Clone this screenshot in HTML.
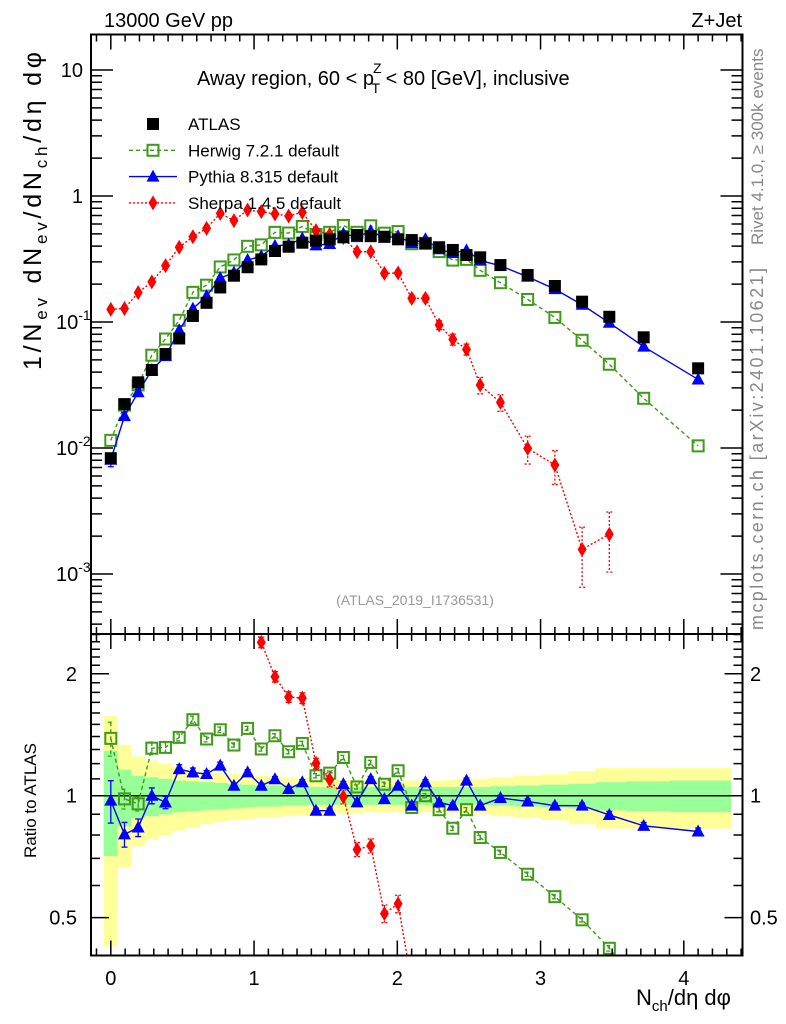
<!DOCTYPE html>
<html><head><meta charset="utf-8"><style>
html,body{margin:0;padding:0;background:#fff;width:786px;height:1024px;overflow:hidden;}
svg{display:block;font-family:"Liberation Sans",Arial,sans-serif;}
</style></head><body>
<svg id="chart" width="786" height="1024" viewBox="0 0 786 1024" xmlns="http://www.w3.org/2000/svg">
<defs>
<clipPath id="clipMain"><rect x="91" y="34.5" width="651.5" height="599.5"/></clipPath>
<clipPath id="clipRatio"><rect x="91" y="634" width="651.5" height="321.5"/></clipPath>
</defs>
<g id="bands" clip-path="url(#clipRatio)"></g>
<g id="marksRatio" clip-path="url(#clipRatio)"></g>
<g id="marksMain" clip-path="url(#clipMain)"></g>
<g id="axes"></g>
<text x="104" y="27" font-size="20">13000 GeV pp</text>
<text x="742" y="27" font-size="20" text-anchor="end">Z+Jet</text>
<text x="197" y="85" font-size="20">Away region, 60 &lt; p<tspan font-size="14" dy="-12" dx="-1">Z</tspan><tspan font-size="14" dy="20" dx="-10">T</tspan><tspan dy="-8"> &lt; 80 [GeV], inclusive</tspan></text>
<text x="415" y="605" font-size="14" fill="#999" text-anchor="middle">(ATLAS_2019_I1736531)</text>
<text transform="translate(763,245) rotate(-90)" font-size="17" fill="#888">Rivet 4.1.0, ≥ 300k events</text>
<text transform="translate(763,630) rotate(-90)" font-size="18" fill="#888" textLength="362" lengthAdjust="spacing">mcplots.cern.ch [arXiv:2401.10621]</text>
<text transform="translate(41,370) rotate(-90)" font-size="25" textLength="318" lengthAdjust="spacing">1/N<tspan font-size="17" dy="6">ev</tspan><tspan dy="-6"> dN</tspan><tspan font-size="17" dy="6">ev</tspan><tspan dy="-6">/dN</tspan><tspan font-size="17" dy="6">ch</tspan><tspan dy="-6">/dη dφ</tspan></text>
<text transform="translate(36,858) rotate(-90)" font-size="17">Ratio to ATLAS</text>
<text x="636" y="1005" font-size="22">N<tspan font-size="15" dy="6">ch</tspan><tspan dy="-6">/dη dφ</tspan></text>
<g id="legend"></g>
</svg>
<script>
const xCenters=[0,0.0955,0.191,0.2865,0.382,0.4775,0.573,0.6685,0.764,0.8595,0.955,1.0505,1.146,1.2415,1.337,1.4325,1.528,1.6235,1.719,1.8145,1.91,2.0055,2.101,2.1965,2.292,2.3875,2.483,2.5785,2.72,2.91,3.1,3.29,3.48,3.72,4.1];
const binEdges=[-0.05,0.048,0.143,0.239,0.334,0.43,0.525,0.621,0.716,0.812,0.907,1.003,1.098,1.194,1.289,1.385,1.48,1.576,1.671,1.767,1.862,1.958,2.053,2.149,2.244,2.34,2.435,2.531,2.65,2.815,3.005,3.195,3.385,3.6,3.9,4.33];
const atlas=[0.0083,0.0223,0.0332,0.0416,0.0557,0.074,0.1116,0.142,0.188,0.233,0.272,0.314,0.366,0.396,0.426,0.442,0.453,0.47,0.49,0.48,0.475,0.453,0.447,0.421,0.392,0.373,0.340,0.326,0.283,0.236,0.193,0.145,0.110,0.0756,0.0429];
const herwig=[0.0115,0.0219,0.0317,0.0545,0.0733,0.1031,0.1719,0.196,0.2735,0.3108,0.3988,0.4095,0.5146,0.5085,0.5734,0.495,0.515,0.584,0.515,0.58,0.507,0.522,0.418,0.421,0.362,0.310,0.314,0.257,0.205,0.151,0.1087,0.0716,0.0462,0.0248,0.0104];
const pythia=[0.00807,0.0179,0.0277,0.0416,0.0536,0.0861,0.1274,0.1606,0.223,0.2465,0.3106,0.3322,0.402,0.4114,0.4597,0.4058,0.4159,0.502,0.4719,0.5275,0.466,0.4793,0.4224,0.4543,0.3775,0.3525,0.3703,0.3081,0.2793,0.2284,0.1824,0.137,0.0986,0.0637,0.035];
const pythiaErr=[0.12,0.07,0.05,0.045,0.035,0.025,0.025,0.02,0.02,0.015,0.015,0.015,0.015,0.015,0.015,0.015,0.015,0.015,0.015,0.015,0.015,0.015,0.015,0.015,0.015,0.015,0.015,0.015,0.015,0.015,0.015,0.015,0.02,0.02,0.02];
const sherpa=[0.126,0.128,0.171,0.208,0.280,0.392,0.475,0.554,0.728,0.637,0.774,0.751,0.72,0.694,0.742,0.531,0.496,0.467,0.361,0.361,0.243,0.245,0.154,0.154,0.0946,0.0728,0.0607,0.0316,0.0230,0.00994,0.00733,0.00157,0.00207];
const sherpaErr=[0.04,0.04,0.03,0.03,0.03,0.03,0.03,0.03,0.03,0.03,0.03,0.03,0.03,0.03,0.03,0.03,0.04,0.04,0.04,0.04,0.05,0.05,0.06,0.06,0.08,0.1,0.1,0.15,0.15,0.25,0.3,0.5,0.5];
const totErr=[0.575,0.335,0.25,0.22,0.20,0.18,0.165,0.15,0.14,0.13,0.125,0.12,0.115,0.11,0.105,0.10,0.10,0.095,0.095,0.09,0.09,0.09,0.09,0.09,0.09,0.095,0.10,0.10,0.11,0.12,0.13,0.15,0.17,0.17,0.17];
const statErr=[0.29,0.16,0.12,0.11,0.10,0.09,0.085,0.08,0.075,0.07,0.065,0.06,0.06,0.055,0.055,0.05,0.05,0.05,0.05,0.05,0.05,0.05,0.05,0.05,0.05,0.05,0.05,0.05,0.055,0.06,0.065,0.07,0.08,0.085,0.09];
const xTicks=[0,1,2,3,4];
const mainTickLabels=[[10,"10"],[1,"1"],[0.1,"10<sup>-1</sup>"],[0.01,"10<sup>-2</sup>"],[0.001,"10<sup>-3</sup>"]];
const ratioTickLabels=[[2,"2"],[1,"1"],[0.5,"0.5"]];

const NS="http://www.w3.org/2000/svg";
const L=91,R=742.5,T=34.5,MB=634,RB=955.5;
const X=v=>110.8+v*143.25;
const Ym=v=>196-126*Math.log10(v);
const Yr=v=>795.7-405*Math.log10(v);
function mk(tag,attrs,parent){const e=document.createElementNS(NS,tag);for(const k in attrs)e.setAttribute(k,attrs[k]);parent.appendChild(e);return e;}
const gA=document.getElementById('axes'),gM=document.getElementById('marksMain'),gR=document.getElementById('marksRatio'),gB=document.getElementById('bands'),gL=document.getElementById('legend');
const GREEN="#3f9a1a",BLUE="#0000ff",RED="#ff0000";

function band(errs,color,name){
  let d="";
  for(let i=0;i<xCenters.length;i++){
    const x0=X(binEdges[i]),x1=X(binEdges[i+1]);
    const y0=Yr(1+errs[i]),y1=Yr(Math.max(1-errs[i],0.05));
    d+=`M${x0},${y0}H${x1}V${y1}H${x0}Z`;
  }
  const p=mk('path',{d:d,fill:color},gB);
  
  
}
band(totErr,"#ffff99","total-uncertainty-band");
band(statErr,"#99ff99","stat-uncertainty-band");
const ref=mk('line',{x1:L,x2:R,y1:Yr(1),y2:Yr(1),stroke:"#000","stroke-width":1.5},gR);



function marker(g,type,x,y,color,name){
  let e;
  if(type==='sq') e=mk('rect',{x:x-6,y:y-6,width:12,height:12,fill:"#000"},g);
  else if(type==='osq') e=mk('rect',{x:x-5.5,y:y-5.5,width:11,height:11,fill:"none",stroke:color,"stroke-width":2},g);
  else if(type==='tri') e=mk('path',{d:`M${x},${y-7}L${x+6.5},${y+5}L${x-6.5},${y+5}Z`,fill:color},g);
  else e=mk('path',{d:`M${x},${y-7.5}L${x+4.5},${y}L${x},${y+7.5}L${x-4.5},${y}Z`,fill:color},g);
  
  
  return e;
}
function series(g,xs,ys,Yf,color,dash,type,name,errs){
  const pts=xs.map((x,i)=>[X(x),Yf(ys[i])]);
  const line=mk('polyline',{points:pts.map(p=>p.join(',')).join(' '),fill:"none",stroke:color,"stroke-width":1.4,"stroke-dasharray":dash},g);
  
  
  if(errs){
    ys.forEach((v,i)=>{
      const e=errs[i];const x=X(xs[i]);
      const y1=Yf(v*(1+e)),y2=Yf(Math.max(v*(1-e),1e-6));
      const eb=mk('path',{d:`M${x},${y1}V${y2}M${x-3},${y1}H${x+3}M${x-3},${y2}H${x+3}`,stroke:color,"stroke-width":1.3,"stroke-dasharray":dash,fill:"none"},g);
      
      
    });
  }
  pts.forEach(p=>marker(g,type,p[0],p[1],color,name+'-point'));
}
series(gM,xCenters,herwig,Ym,GREEN,"4,3",'osq','herwig',null);
series(gM,xCenters.slice(0,sherpa.length),sherpa,Ym,RED,"2,2",'dia','sherpa',sherpaErr);
series(gM,xCenters,pythia,Ym,BLUE,"",'tri','pythia',pythiaErr);
atlas.forEach((v,i)=>marker(gM,'sq',X(xCenters[i]),Ym(v),"#000",'atlas-point'));
const herR=herwig.map((v,i)=>v/atlas[i]);
const pyR=pythia.map((v,i)=>v/atlas[i]);
const shR=sherpa.map((v,i)=>v/atlas[i]);
series(gR,xCenters,herR,Yr,GREEN,"4,3",'osq','herwig-ratio',pythiaErr.map(e=>e*0.8));
series(gR,xCenters.slice(0,sherpa.length),shR,Yr,RED,"2,2",'dia','sherpa-ratio',sherpaErr);
series(gR,xCenters,pyR,Yr,BLUE,"",'tri','pythia-ratio',pythiaErr);

[[T,MB],[MB,RB]].forEach((r,k)=>{
  const f=mk('rect',{x:L,y:r[0],width:R-L,height:r[1]-r[0],fill:"none",stroke:"#000","stroke-width":2},gA);
  
  
});
let td="";
for(let v=-0.1;v<=4.41;v+=0.1){
  const vv=Math.round(v*10)/10;const x=X(vv);if(x<L||x>R)continue;
  const major=Math.abs(vv-Math.round(vv))<1e-6;const len=major?15:7;
  [T,MB].forEach(y=>td+=`M${x},${y}v${len}`);
  [MB,RB].forEach(y=>td+=`M${x},${y}v${-len}`);
}
for(let d=-4;d<=1;d++){for(let m=1;m<=9;m++){const v=m*Math.pow(10,d);const y=Ym(v);if(y<T||y>MB)continue;const len=m===1?22:11;td+=`M${L},${y}h${len}M${R},${y}h${-len}`;}}
for(let k=4;k<=25;k++){const v=k/10;const y=Yr(v);if(y<MB||y>RB)continue;const major=(k===5||k===10||k===20);const len=major?18:9;td+=`M${L},${y}h${len}M${R},${y}h${-len}`;}
const tk=mk('path',{d:td,stroke:"#000","stroke-width":1.5,fill:"none"},gA);


xTicks.forEach(v=>{
  const t=mk('text',{x:X(v),y:985,"font-size":20,"text-anchor":"middle"},gA);t.textContent=v;
  
  
});
mainTickLabels.forEach(([v,s])=>{
  const y=Ym(v)+7;
  const t=mk('text',{x:83,y:y,"font-size":20,"text-anchor":"end"},gA);
  if(s.includes('sup')){t.setAttribute('x',56);t.setAttribute('text-anchor','start');t.innerHTML='10<tspan font-size="14" dy="-9">'+s.match(/-\d/)[0]+'</tspan>';}
  else t.textContent=s;
  
  
});
ratioTickLabels.forEach(([v,s])=>{
  const y=Yr(v)+7;
  const t=mk('text',{x:77,y:y,"font-size":20,"text-anchor":"end"},gA);t.textContent=s;
  
  
  const t2=mk('text',{x:750,y:y,"font-size":20},gA);t2.textContent=s;
  
  
});
const leg=[["ATLAS","#000","",'sq'],["Herwig 7.2.1 default",GREEN,"4,3",'osq'],["Pythia 8.315 default",BLUE,"",'tri'],["Sherpa 1.4.5 default",RED,"2,2",'dia']];
leg.forEach((e,i)=>{
  const y=124+i*26.3;
  const g=mk('g',{},gL);
  
  
  if(i>0) mk('line',{x1:129,x2:177,y1:y,y2:y,stroke:e[1],"stroke-width":1.4,"stroke-dasharray":e[2]},g);
  marker(g,e[3],153,y,e[1],'legend-marker');
  const t=mk('text',{x:188,y:y+6,"font-size":17},g);t.textContent=e[0];
});
</script>
</body></html>
